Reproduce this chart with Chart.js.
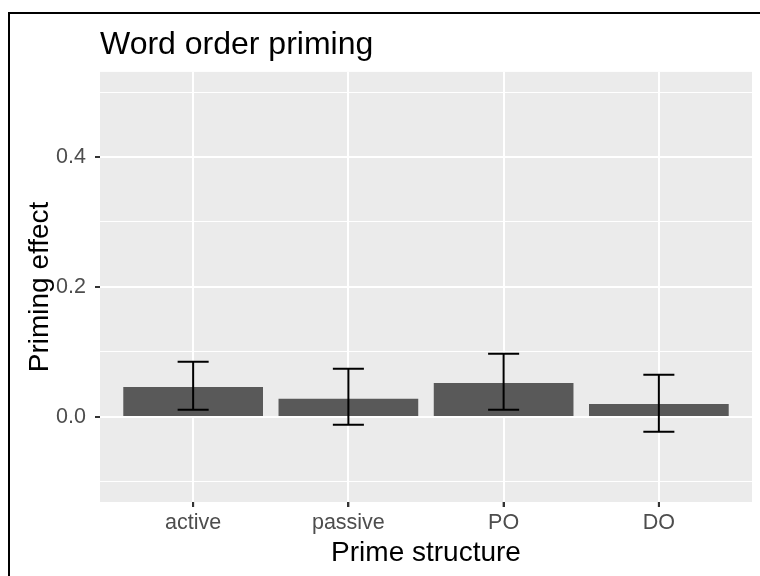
<!DOCTYPE html>
<html>
<head>
<meta charset="utf-8">
<script src="https://cdn.jsdelivr.net/npm/chart.js@4.4.0/dist/chart.umd.min.js"></script>
<style>
  html, body { margin: 0; padding: 0; background: #fff; overflow: hidden; }
  #frame { position: absolute; left: 8px; top: 12px; width: 760px; height: 576px; border-left: 2px solid #000; border-top: 2px solid #000; }
  #chart { position: absolute; left: 0; top: 0; }
</style>
</head>
<body>
<div id="frame"></div>
<canvas id="chart" width="760" height="576"></canvas>
<script>
// data
const categories = ['active', 'passive', 'PO', 'DO'];
const means = [0.046, 0.028, 0.052, 0.020];
const lower = [0.011, -0.012, 0.011, -0.023];
const upper = [0.085, 0.074, 0.097, 0.065];
const yTicks = [-0.1, 0, 0.1, 0.2, 0.3, 0.4, 0.5];
const yLabelled = [0, 0.2, 0.4];

const FONT = "'Liberation Sans', Arial, Helvetica, sans-serif";
const capWidth = 0.2; // in category units

function isLabelled(v) {
    return yLabelled.some(t => Math.abs(t - v) < 1e-9);
}

// grey panel behind the grid
const panelBackground = {
    id: 'panelBackground',
    beforeDraw(chart) {
        const {ctx, chartArea: a} = chart;
        ctx.save();
        ctx.fillStyle = '#EBEBEB';
        ctx.fillRect(a.left, a.top, a.right - a.left, a.bottom - a.top);
        ctx.restore();
    }
};

// error bars drawn through the chart scales, plus the x tick marks
const errorBars = {
    id: 'errorBars',
    afterDatasetsDraw(chart) {
        const {ctx, chartArea, scales: {x, y}} = chart;
        ctx.save();
        ctx.strokeStyle = '#000';
        ctx.lineWidth = 2;
        categories.forEach((c, i) => {
            const cx = x.getPixelForValue(i);
            const x0 = x.getPixelForValue(i - capWidth / 2);
            const x1 = x.getPixelForValue(i + capWidth / 2);
            const yLo = y.getPixelForValue(lower[i]);
            const yHi = y.getPixelForValue(upper[i]);
            ctx.beginPath();
            ctx.moveTo(cx, yLo); ctx.lineTo(cx, yHi);
            ctx.moveTo(x0, yLo); ctx.lineTo(x1, yLo);
            ctx.moveTo(x0, yHi); ctx.lineTo(x1, yHi);
            ctx.stroke();
        });
        ctx.strokeStyle = '#333333';
        categories.forEach((c, i) => {
            const cx = x.getPixelForValue(i);
            ctx.beginPath();
            ctx.moveTo(cx, chartArea.bottom);
            ctx.lineTo(cx, chartArea.bottom + 5);
            ctx.stroke();
        });
        ctx.restore();
    }
};

new Chart(document.getElementById('chart'), {
    type: 'bar',
    data: {
        datasets: [{
            data: means.map((v, i) => ({x: i, y: v})),
            backgroundColor: '#595959',
            borderWidth: 0,
            categoryPercentage: 1,
            barPercentage: 0.9
        }]
    },
    options: {
        responsive: false,
        animation: false,
        layout: { padding: { left: 10, right: 8, top: 0, bottom: 0 } },
        plugins: {
            legend: { display: false },
            tooltip: { enabled: false },
            title: {
                display: true,
                text: 'Word order priming',
                align: 'start',
                fullSize: false,
                color: '#000',
                font: { family: FONT, size: 32, weight: 'normal' },
                padding: { top: 26, bottom: 7.5 }
            }
        },
        scales: {
            x: {
                type: 'linear',
                min: -0.6,
                max: 3.6,
                offset: false,
                afterBuildTicks: scale => {
                    scale.ticks = categories.map((c, i) => ({value: i}));
                },
                afterFit: scale => { scale.height = 74; },
                ticks: {
                    callback: v => categories[v],
                    color: '#4D4D4D',
                    font: { family: FONT, size: 21.5 },
                    padding: 3,
                    maxRotation: 0,
                    autoSkip: false
                },
                grid: {
                    offset: false,
                    color: '#FFFFFF',
                    lineWidth: 2,
                    tickColor: '#333333',
                    tickLength: 5,
                    tickWidth: 2
                },
                border: { display: false },
                title: {
                    display: true,
                    text: 'Prime structure',
                    color: '#000',
                    font: { family: FONT, size: 28 },
                    padding: { top: 0, bottom: 6 }
                }
            },
            y: {
                min: -0.131,
                max: 0.531,
                afterBuildTicks: scale => {
                    scale.ticks = yTicks.map(v => ({value: v}));
                },
                afterFit: scale => { scale.width = 90; },
                ticks: {
                    callback: v => isLabelled(v) ? v.toFixed(1) : '',
                    color: '#4D4D4D',
                    font: { family: FONT, size: 21.5 },
                    padding: 9
                },
                grid: {
                    color: '#FFFFFF',
                    lineWidth: ctx => isLabelled(ctx.tick.value) ? 2 : 1,
                    tickColor: ctx => isLabelled(ctx.tick.value) ? '#333333' : 'rgba(0,0,0,0)',
                    tickLength: 5,
                    tickWidth: 2
                },
                border: { display: false },
                title: {
                    display: true,
                    text: 'Priming effect',
                    color: '#000',
                    font: { family: FONT, size: 28 },
                    padding: { top: 13, bottom: 0 }
                }
            }
        }
    },
    plugins: [panelBackground, errorBars]
});
</script>
</body>
</html>
